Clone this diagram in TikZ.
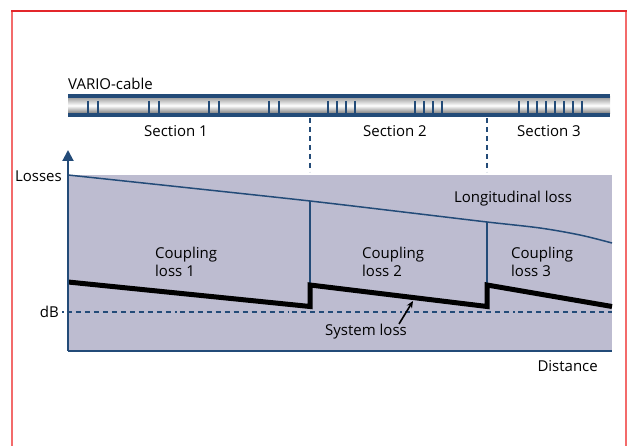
\documentclass[tikz,border=0pt]{standalone}
\usepackage{fontspec}
\setmainfont{Open Sans}
\usetikzlibrary{arrows.meta}
\definecolor{dkblue}{HTML}{234B78}
\definecolor{shadebg}{HTML}{BDBCD0}
\definecolor{frametop}{HTML}{E3262B}
\definecolor{frameside}{HTML}{F36B6B}
\tikzset{
  lbl/.style={font=\fontsize{15}{17.5}\selectfont, inner sep=0pt, text=black},
  vdash/.style={dkblue, line width=1.8pt, dash pattern=on 5pt off 4pt},
  tickmark/.style={dkblue, line width=1.8pt},
}
\begin{document}
\begin{tikzpicture}[x=1pt,y=-1pt]
\useasboundingbox (0,0) rectangle (630,446);
% frame
\draw[frameside, line width=1.2pt] (12,11) -- (12,446);
\draw[frameside, line width=1.2pt] (626,11) -- (626,446);
\draw[frametop, line width=2.2pt] (11.4,11) -- (626.6,11);

% cable
\node[lbl, anchor=south west] (vario) at (68,90) {VARIO-cable};
\shade[top color=gray!80, bottom color=gray!90!black, middle color=white] (68,97) rectangle (610,114);
\fill[dkblue] (68,94) rectangle (610,98);
\fill[dkblue] (68,113) rectangle (610,117);
\foreach \x in {88,98,149,159,209,219,269,279,328,337,346,355,415,424,433,442,519,528,537,546,555,564,573,582}
  \draw[tickmark] (\x,101) -- (\x,113);

\coordinate (c1) at (310,118);
\coordinate (c2) at (487,118);
\coordinate (d1) at (310,172);
\coordinate (d2) at (487,172);
\node[lbl] (s1) at (176,131) {Section 1};
\node[lbl] (s2) at (395,131) {Section 2};
\node[lbl] (s3) at (549,131) {Section 3};
\draw[vdash] (c1) -- (d1);
\draw[vdash] (c2) -- (d2);

% chart background
\fill[shadebg] (68,175) rectangle (612,351);

% longitudinal loss curve
\draw[dkblue, line width=1.5pt] plot[smooth, tension=0.5] coordinates {(68,175) (190,188) (310,201) (420,214) (487,222) (540,228) (580,235) (612,243)};
\coordinate (t1) at (310,201);
\coordinate (t2) at (487,222.5);
\coordinate (b1) at (310,284);
\coordinate (b2) at (487,284);
\draw[dkblue, line width=1.2pt] (t1) -- (b1);
\draw[dkblue, line width=1.2pt] (t2) -- (b2);

% dB dashed line
\node[lbl, anchor=east] (db) at (59,312) {dB};
\coordinate (dbend) at (612,312);
\draw[dkblue, line width=1.8pt, dash pattern=on 1.8pt off 3pt on 5pt off 4pt on 5pt off 4pt on 5pt off 4pt on 5pt off 4pt on 5pt off 4pt on 5pt off 4pt on 5pt off 4pt on 5pt off 4pt on 5pt off 4pt on 5pt off 4pt on 5pt off 4pt on 5pt off 4pt] (db.east) ++(3,0) -- (dbend);

% system loss
\draw[black, line width=5pt, line join=miter, line cap=butt]
  (68,282) -- (310,306.5) -- (310,285) -- (487,306.5) -- (487,285) -- (612,306.5);

% axes
\coordinate (origin) at (68,351);
\coordinate (ytop) at (68,150);
\coordinate (xend) at (612,351);
\draw[dkblue, line width=2pt, -{Triangle[length=11pt,width=11pt]}] (origin) -- (ytop);
\draw[dkblue, line width=2.4pt] (origin) -- (xend);

% labels
\node[lbl, anchor=east] (losses) at (62,176) {Losses};
\node[lbl] (long) at (513,199) {Longitudinal loss};
\node[lbl, align=left, anchor=west] (cl1) at (155,262) {Coupling\\loss 1};
\node[lbl, align=left, anchor=west] (cl2) at (362,262) {Coupling\\loss 2};
\node[lbl, align=left, anchor=west] (cl3) at (511,262) {Coupling\\loss 3};
\node[lbl] (sys) at (366,332) {System loss};
\node[lbl, anchor=east] (dist) at (598,366) {Distance};
\coordinate (sysarr) at (413,301);
\draw[black, line width=1.6pt, -{Stealth[length=7pt,width=6pt]}] (399,324) -- (sysarr);
\end{tikzpicture}
\end{document}
